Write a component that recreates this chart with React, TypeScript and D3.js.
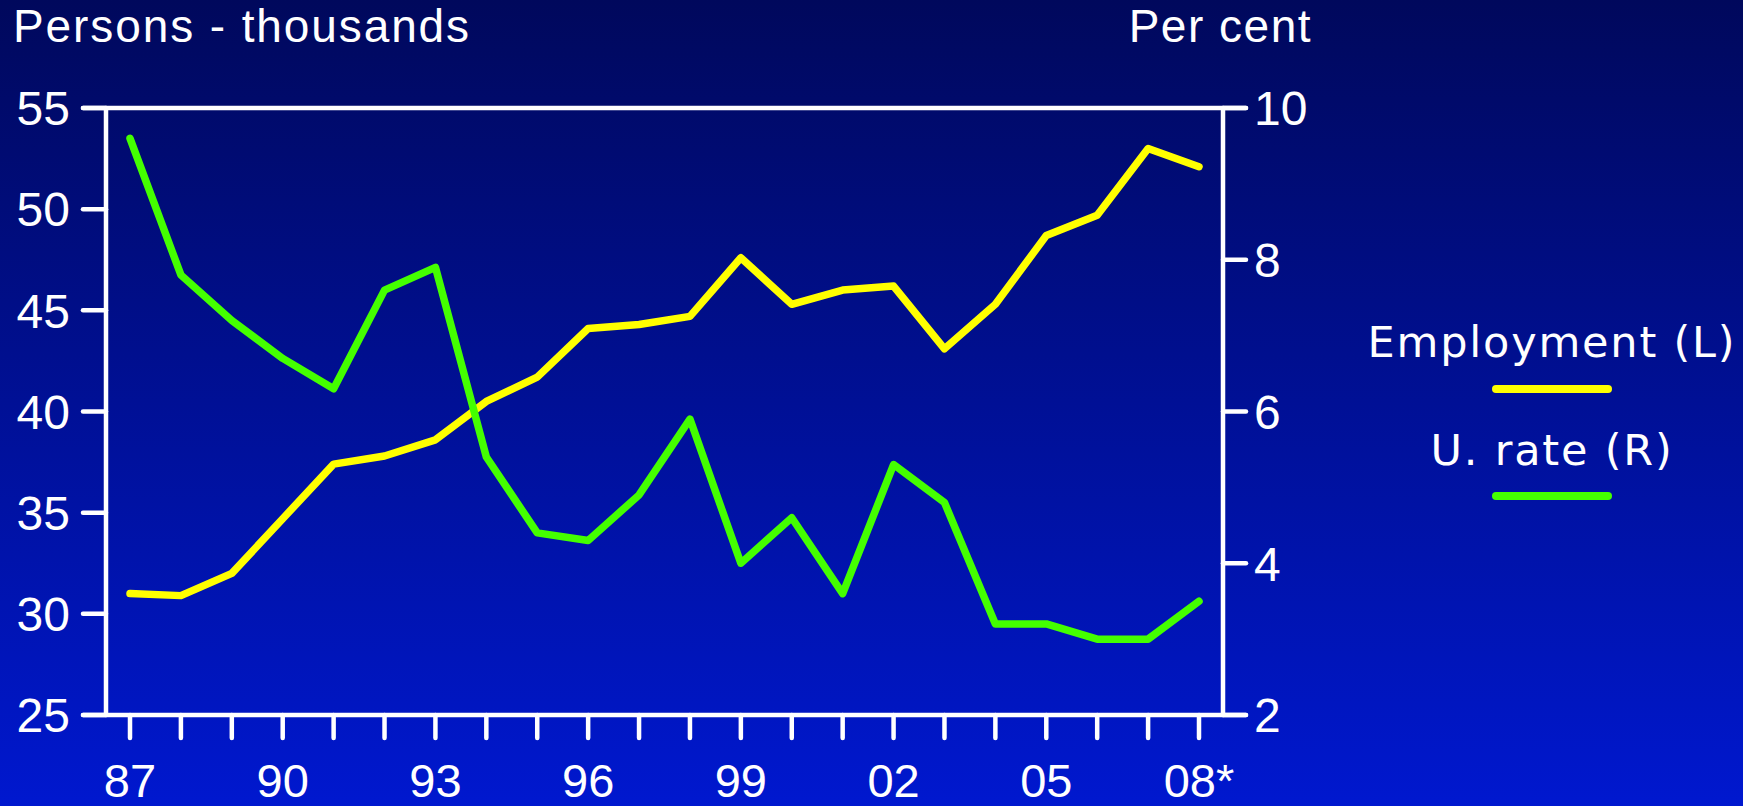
import React, { useEffect, useRef } from "react";
import * as d3 from "d3";

const years = ["87","88","89","90","91","92","93","94","95","96","97","98","99","00","01","02","03","04","05","06","07","08"];
const employment = [31.0,30.9,32.0,34.7,37.4,37.8,38.6,40.5,41.7,44.1,44.3,44.7,47.6,45.3,46.0,46.2,43.1,45.3,48.7,49.7,53.0,52.1];
const unemploymentRate = [9.6,7.8,7.2,6.7,6.3,7.6,7.9,5.4,4.4,4.3,4.9,5.9,4.0,4.6,3.6,5.3,4.8,3.2,3.2,3.0,3.0,3.5];
const leftTicks = [25,30,35,40,45,50,55];
const rightTicks = [2,4,6,8,10];
const xTickLabels: Record<string,string> = {"87":"87","90":"90","93":"93","96":"96","99":"99","02":"02","05":"05","08":"08*"};
const seriesNames = ["Employment (L)", "U. rate (R)"];

const W = 1743, H = 806;
const plot = { left: 106, right: 1223, top: 108, bottom: 715 };
const numFont = "'Liberation Sans', Arial, sans-serif";
const legFont = "'DejaVu Sans', Verdana, sans-serif";

export default function App() {
  const ref = useRef<SVGSVGElement>(null);
  useEffect(() => {
    const svg = d3.select(ref.current);
    svg.selectAll("*").remove();
    const defs = svg.append("defs");
    const g = defs.append("linearGradient").attr("id","bg").attr("x1",0).attr("y1",0).attr("x2",0).attr("y2",1);
    g.append("stop").attr("offset","0%").attr("stop-color","#00085c");
    g.append("stop").attr("offset","100%").attr("stop-color","#0018cf");
    svg.append("rect").attr("width",W).attr("height",H).attr("fill","url(#bg)");

    const x = d3.scalePoint<string>().domain(years).range([130, 1199]);
    const yL = d3.scaleLinear().domain([25,55]).range([plot.bottom, plot.top]);
    const yR = d3.scaleLinear().domain([2,10]).range([plot.bottom, plot.top]);

    const axisColor = "#ffffff";
    const aw = 4.5;
    const tickLen = 23;
    const fr = svg.append("g").attr("stroke",axisColor).attr("stroke-width",aw).attr("stroke-linecap","round");
    fr.append("line").attr("x1",plot.left).attr("x2",plot.left).attr("y1",plot.top).attr("y2",plot.bottom);
    fr.append("line").attr("x1",plot.right).attr("x2",plot.right).attr("y1",plot.top).attr("y2",plot.bottom);
    fr.append("line").attr("x1",plot.left - tickLen).attr("x2",plot.right + tickLen).attr("y1",plot.top).attr("y2",plot.top);
    fr.append("line").attr("x1",plot.left - tickLen).attr("x2",plot.right + tickLen).attr("y1",plot.bottom).attr("y2",plot.bottom);
    leftTicks.forEach(t => {
      fr.append("line").attr("x1",plot.left - tickLen).attr("x2",plot.left).attr("y1",yL(t)).attr("y2",yL(t));
    });
    rightTicks.forEach(t => {
      fr.append("line").attr("x1",plot.right).attr("x2",plot.right + tickLen).attr("y1",yR(t)).attr("y2",yR(t));
    });
    years.forEach(yr => {
      fr.append("line").attr("x1",x(yr)!).attr("x2",x(yr)!).attr("y1",plot.bottom).attr("y2",plot.bottom + tickLen);
    });

    const txt = svg.append("g").attr("fill","#ffffff").attr("font-family",numFont);
    leftTicks.forEach(t => {
      txt.append("text").attr("x",70).attr("y",yL(t)).attr("dy","0.36em").attr("text-anchor","end").attr("font-size",48).text(String(t));
    });
    rightTicks.forEach(t => {
      txt.append("text").attr("x",1254).attr("y",yR(t)).attr("dy","0.36em").attr("text-anchor","start").attr("font-size",48).text(String(t));
    });
    years.forEach(yr => {
      if (xTickLabels[yr]) {
        txt.append("text").attr("x",x(yr)!).attr("y",797).attr("text-anchor","middle").attr("font-size",47).text(xTickLabels[yr]);
      }
    });
    txt.append("text").attr("x",13).attr("y",42).attr("font-size",46).attr("letter-spacing",1.9).text("Persons - thousands");
    txt.append("text").attr("x",1312).attr("y",42).attr("text-anchor","end").attr("font-size",46).attr("letter-spacing",1.5).text("Per cent");

    const lineL = d3.line<number>().x((_, i) => x(years[i])!).y(d => yL(d));
    const lineR = d3.line<number>().x((_, i) => x(years[i])!).y(d => yR(d));
    svg.append("path").attr("d", lineL(employment)!).attr("fill","none").attr("stroke","#ffff00").attr("stroke-width",7.5).attr("stroke-linejoin","round").attr("stroke-linecap","round");
    svg.append("path").attr("d", lineR(unemploymentRate)!).attr("fill","none").attr("stroke","#44ff00").attr("stroke-width",7.5).attr("stroke-linejoin","round").attr("stroke-linecap","round");

    const lg = svg.append("g");
    const cx = 1552;
    const items = [
      { name: seriesNames[0], color: "#ffff00", ty: 357, ly: 389 },
      { name: seriesNames[1], color: "#44ff00", ty: 465, ly: 496 },
    ];
    items.forEach(it => {
      lg.append("text").attr("x",cx).attr("y",it.ty).attr("text-anchor","middle").attr("fill","#ffffff").attr("font-family",legFont).attr("font-size",43).attr("letter-spacing",1.8).text(it.name);
      lg.append("line").attr("x1",cx - 56).attr("x2",cx + 56).attr("y1",it.ly).attr("y2",it.ly).attr("stroke",it.color).attr("stroke-width",8).attr("stroke-linecap","round");
    });
  }, []);
  return <svg ref={ref} width={W} height={H} style={{ position: "absolute", left: 0, top: 0, display: "block" }} />;
}
